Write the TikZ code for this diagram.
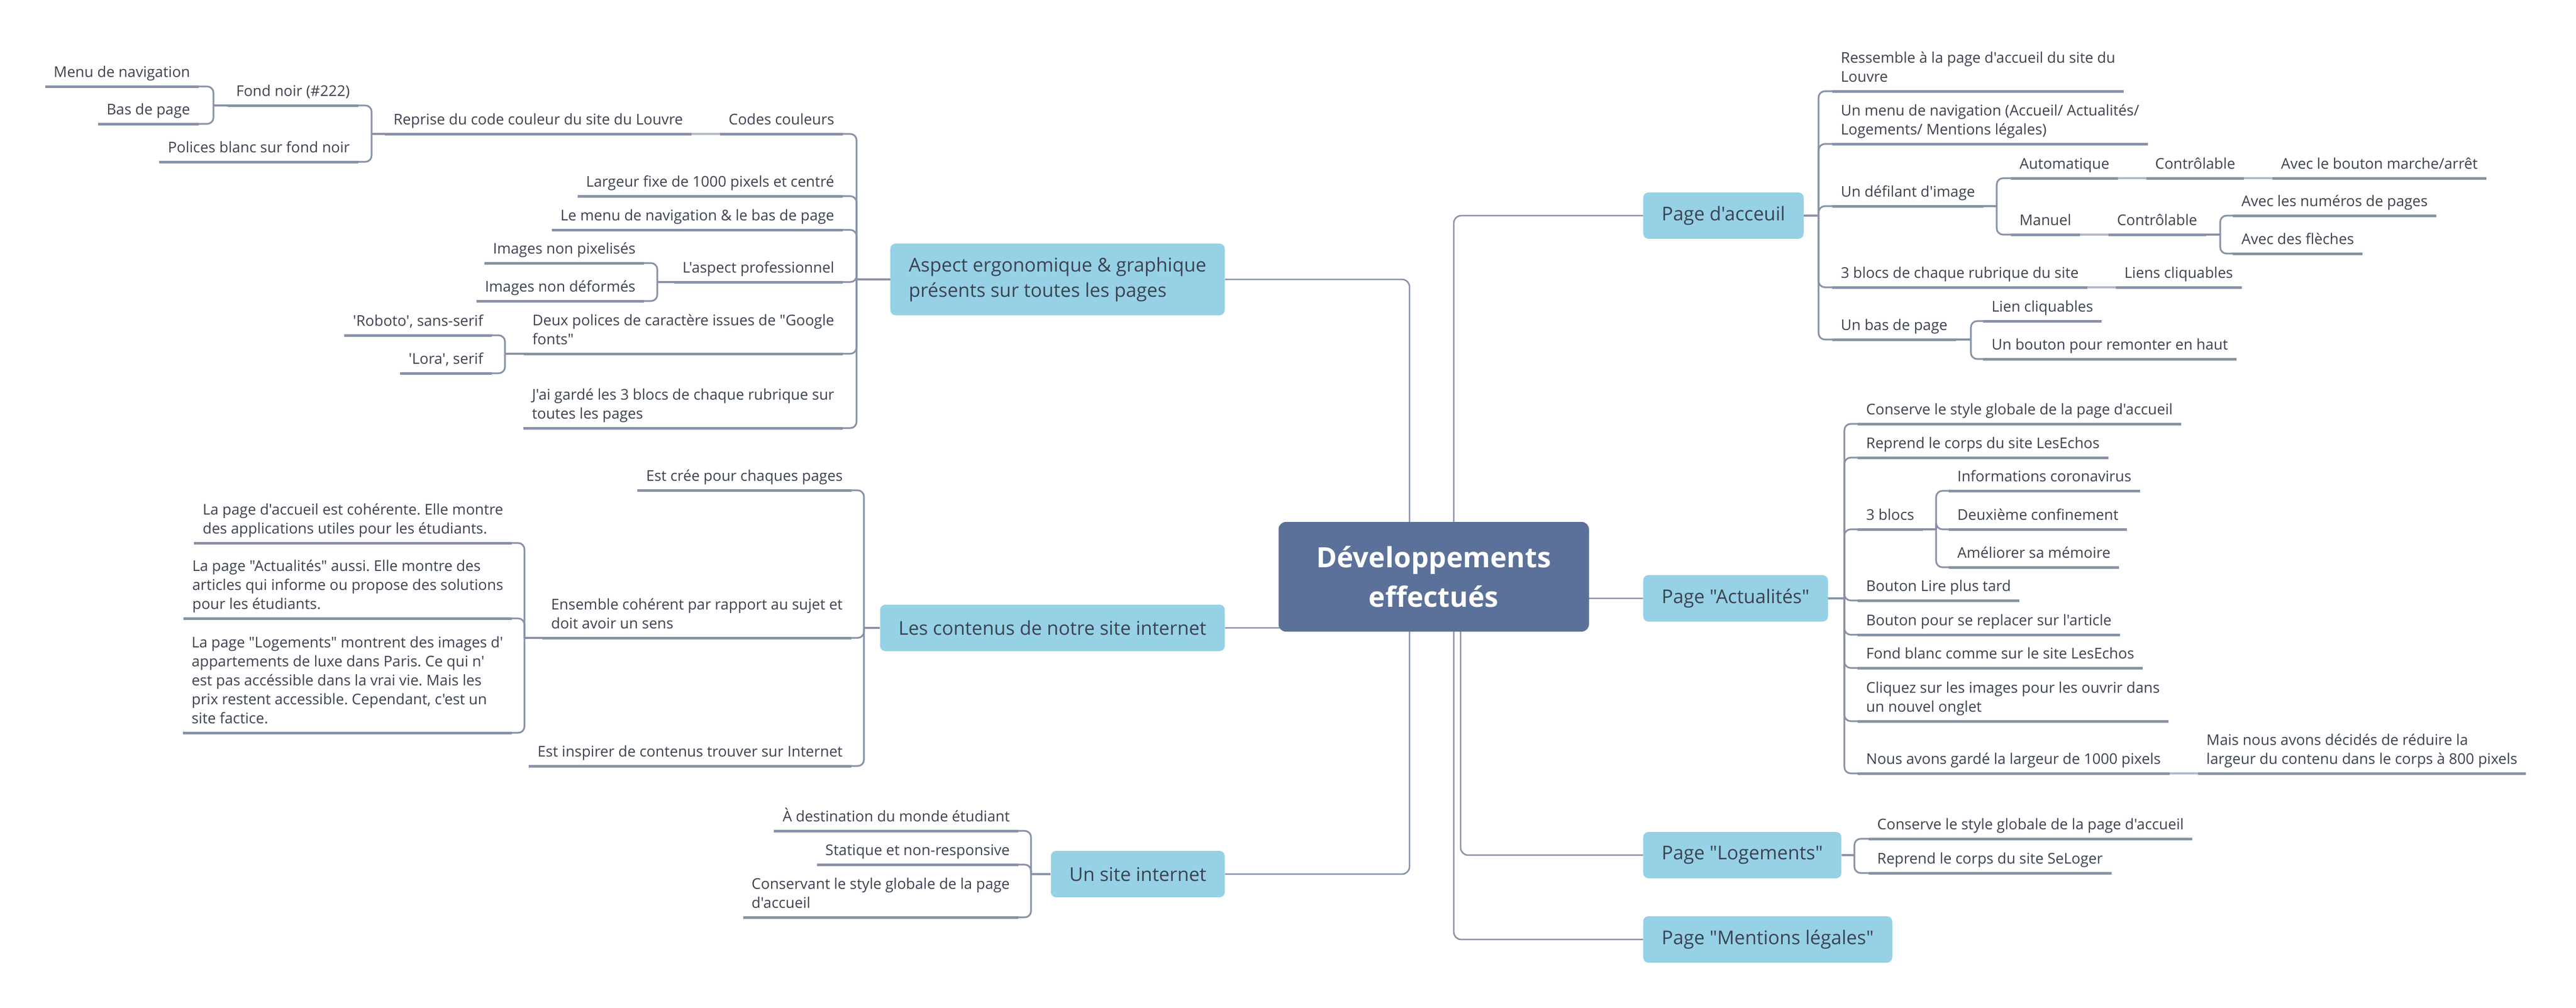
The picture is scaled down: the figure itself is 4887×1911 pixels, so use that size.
\documentclass[tikz,border=0pt]{standalone}
\usepackage{fontspec}
\setmainfont{Open Sans}[Ligatures=TeXOff]
\usepackage{xcolor}
\usetikzlibrary{positioning, backgrounds}
\definecolor{rootblue}{HTML}{5B7199}
\definecolor{boxblue}{HTML}{96D1E6}
\definecolor{linegray}{HTML}{8792A6}
\definecolor{linklight}{HTML}{B1BAC8}
\definecolor{txtgray}{HTML}{3C4350}
\def\chainsep{27pt}
\frenchspacing

\begin{document}
\begin{tikzpicture}[x=0.5pt, y=-0.5pt, node distance=\chainsep]
    \tikzstyle{root}=[fill=rootblue, rounded corners=7pt, text=white, align=center, font=\fontsize{26.5}{37.5}\selectfont\bfseries, minimum width=294.5pt, minimum height=104pt]
    \tikzstyle{branch}=[fill=boxblue, rounded corners=5pt, text=txtgray, align=left, font=\fontsize{18}{24}\selectfont, inner xsep=17.5pt, inner ysep=13pt, minimum height=44pt]
    \tikzstyle{leaf}=[text=txtgray, align=left, font=\fontsize{14}{18}\selectfont, inner xsep=8pt, inner ysep=3pt, execute at end node=\strut]
    \tikzstyle{lleaf}=[leaf, anchor=south east]
    \tikzstyle{rleaf}=[leaf, anchor=south west]
    \tikzstyle{trunk}=[draw=linegray, line width=1.4pt, rounded corners=7pt]
    \tikzstyle{stem}=[draw=linegray, line width=1.6pt, rounded corners=6pt]
    \tikzstyle{uline}=[draw=linegray, line width=2.5pt]
    \tikzstyle{link}=[draw=linklight, line width=1.6pt]

    \useasboundingbox (0,0) rectangle (4887,1911);

    \node[root] (dev) at (2720,1094) {Développements\\effectués};

    \node[branch, anchor=east] (asp) at (2324,530) {Aspect ergonomique \& graphique\\présents sur toutes les pages};
    \node[branch, anchor=east] (cont) at (2324,1191) {Les contenus de notre site internet};
    \node[branch, anchor=east] (site) at (2324,1658) {Un site internet};
    \node[branch, anchor=west] (acc) at (3117,409) {Page d'acceuil};
    \node[branch, anchor=west] (act) at (3117,1135) {Page "Actualités"};
    \node[branch, anchor=west] (log) at (3117,1622) {Page "Logements"};
    \node[branch, anchor=west] (men) at (3117,1782) {Page "Mentions légales"};

    \coordinate (dev-l) at (2674,1094);
    \coordinate (dev-r) at (2758,1094);
    \coordinate (dev-q) at (2771,1094);
    \begin{pgfonlayer}{background}
        \foreach \b in {asp,cont,site}
            \draw[trunk] (dev-l) |- (\b.east);
        \foreach \b in {acc,act,men}
            \draw[trunk] (dev-r) |- (\b.west);
        \draw[trunk] (dev-q) |- (log.west);
    \end{pgfonlayer}

%   Aspect ergonomique
    \node[lleaf] (cc) at (1599,254) {Codes couleurs};
    \node[lleaf, left=of cc.south west, anchor=south east] (rep) {Reprise du code couleur du site du Louvre};
    \node[lleaf] (fn) at (680,200) {Fond noir (\#222)};
    \node[lleaf] (mn) at (377,164) {Menu de navigation};
    \node[lleaf] (bp) at (377,235) {Bas de page};
    \node[lleaf] (pol) at (680,307) {Polices blanc sur fond noir};
    \node[lleaf] (lar) at (1599,372) {Largeur fixe de 1000 pixels et centré};
    \node[lleaf] (mnb) at (1599,436) {Le menu de navigation \& le bas de page};
    \node[lleaf] (pro) at (1599,535) {L'aspect professionnel};
    \node[lleaf] (pix) at (1222,499) {Images non pixelisés};
    \node[lleaf] (ndf) at (1222,571) {Images non déformés};
    \node[lleaf] (gf) at (1599,671) {Deux polices de caractère issues de "Google\\fonts"};
    \node[lleaf] (rob) at (933,636) {'Roboto', sans-serif};
    \node[lleaf] (lora) at (933,708) {'Lora', serif};
    \node[lleaf] (blk) at (1599,812) {J'ai gardé les 3 blocs de chaque rubrique sur\\toutes les pages};

    \coordinate (asp-b) at (1625,530);
    \coordinate (rep-b) at (705,254);
    \coordinate (fn-b) at (405,200);
    \coordinate (pro-b) at (1247,535);
    \coordinate (gf-b) at (958,671);
    \draw[stem] (asp.west) -- (asp-b);
    \foreach \c in {cc,lar,mnb,pro,gf,blk}
        \draw[stem] (asp-b) |- (\c.south east);
    \draw[link] (cc.south west) -- (rep.south east);
    \draw[stem] (rep.south west) -- (rep-b);
    \foreach \c in {fn,pol}
        \draw[stem] (rep-b) |- (\c.south east);
    \draw[stem] (fn.south west) -- (fn-b);
    \foreach \c in {mn,bp}
        \draw[stem] (fn-b) |- (\c.south east);
    \draw[stem] (pro.south west) -- (pro-b);
    \foreach \c in {pix,ndf}
        \draw[stem] (pro-b) |- (\c.south east);
    \draw[stem] (gf.south west) -- (gf-b);
    \foreach \c in {rob,lora}
        \draw[stem] (gf-b) |- (\c.south east);

%   Les contenus
    \node[lleaf] (cr) at (1615,930) {Est crée pour chaques pages};
    \node[lleaf] (ens) at (1615,1210) {Ensemble cohérent par rapport au sujet et\\doit avoir un sens};
    \node[lleaf] (pa) at (971,1030) {La page d'accueil est cohérente. Elle montre\\des applications utiles pour les étudiants.};
    \node[lleaf] (pac) at (971,1173) {La page "Actualités" aussi. Elle montre des\\articles qui informe ou propose des solutions\\pour les étudiants.};
    \node[lleaf] (plo) at (971,1390) {La page "Logements" montrent des images d'\\appartements de luxe dans Paris. Ce qui n'\\est pas accéssible dans la vrai vie. Mais les\\prix restent accessible. Cependant, c'est un\\site factice.};
    \node[lleaf] (ins) at (1615,1453) {Est inspirer de contenus trouver sur Internet};

    \coordinate (cont-b) at (1639,1191);
    \coordinate (ens-b) at (995,1210);
    \draw[stem] (cont.west) -- (cont-b);
    \foreach \c in {cr,ens,ins}
        \draw[stem] (cont-b) |- (\c.south east);
    \draw[stem] (ens.south west) -- (ens-b);
    \foreach \c in {pa,pac,plo}
        \draw[stem] (ens-b) |- (\c.south east);

%   Un site internet
    \node[lleaf] (dst) at (1932,1576) {À destination du monde étudiant};
    \node[lleaf] (sta) at (1932,1640) {Statique et non-responsive};
    \node[lleaf] (csv) at (1932,1740) {Conservant le style globale de la page\\d'accueil};

    \coordinate (site-b) at (1956,1658);
    \draw[stem] (site.west) -- (site-b);
    \foreach \c in {dst,sta,csv}
        \draw[stem] (site-b) |- (\c.south east);

    \foreach \c in {cc,rep,fn,mn,bp,pol,lar,mnb,pro,pix,ndf,gf,rob,lora,blk,cr,ens,pa,pac,plo,ins,dst,sta,csv}
        \draw[uline] (\c.south east) -- (\c.south west);

%   Page d'acceuil
    \node[rleaf] (res) at (3476,173) {Ressemble à la page d'accueil du site du\\Louvre};
    \node[rleaf] (nav) at (3476,273) {Un menu de navigation (Accueil/ Actualités/\\Logements/ Mentions légales)};
    \node[rleaf] (dfl) at (3476,391) {Un défilant d'image};
    \node[rleaf] (aut) at (3815,338) {Automatique};
    \node[rleaf, right=of aut.south east, anchor=south west] (ctr1) {Contrôlable};
    \node[rleaf, right=of ctr1.south east, anchor=south west] (mar) {Avec le bouton marche/arrêt};
    \node[rleaf] (man) at (3815,445) {Manuel};
    \node[rleaf, right=of man.south east, anchor=south west] (ctr2) {Contrôlable};
    \node[rleaf] (num) at (4236,409) {Avec les numéros de pages};
    \node[rleaf] (fle) at (4236,481) {Avec des flèches};
    \node[rleaf] (trb) at (3476,545) {3 blocs de chaque rubrique du site};
    \node[rleaf, right=of trb.south east, anchor=south west] (lcl) {Liens cliquables};
    \node[rleaf] (bas) at (3476,644) {Un bas de page};
    \node[rleaf] (lc) at (3762,609) {Lien cliquables};
    \node[rleaf] (rem) at (3762,681) {Un bouton pour remonter en haut};

    \coordinate (acc-b) at (3450,409);
    \coordinate (dfl-b) at (3788,391);
    \coordinate (ctr2-b) at (4212,445);
    \coordinate (bas-b) at (3739,644);
    \draw[stem] (acc.east) -- (acc-b);
    \foreach \c in {res,nav,dfl,trb,bas}
        \draw[stem] (acc-b) |- (\c.south west);
    \draw[stem] (dfl.south east) -- (dfl-b);
    \foreach \c in {aut,man}
        \draw[stem] (dfl-b) |- (\c.south west);
    \draw[link] (aut.south east) -- (ctr1.south west);
    \draw[link] (ctr1.south east) -- (mar.south west);
    \draw[link] (man.south east) -- (ctr2.south west);
    \draw[stem] (ctr2.south east) -- (ctr2-b);
    \foreach \c in {num,fle}
        \draw[stem] (ctr2-b) |- (\c.south west);
    \draw[link] (trb.south east) -- (lcl.south west);
    \draw[stem] (bas.south east) -- (bas-b);
    \foreach \c in {lc,rem}
        \draw[stem] (bas-b) |- (\c.south west);

%   Page "Actualités"
    \node[rleaf] (cs1) at (3524,804) {Conserve le style globale de la page d'accueil};
    \node[rleaf] (rc1) at (3524,868) {Reprend le corps du site LesEchos};
    \node[rleaf] (tbl) at (3524,1004) {3 blocs};
    \node[rleaf] (inf) at (3697,931) {Informations coronavirus};
    \node[rleaf] (dcf) at (3697,1004) {Deuxième confinement};
    \node[rleaf] (mem) at (3697,1076) {Améliorer sa mémoire};
    \node[rleaf] (lpt) at (3524,1139) {Bouton Lire plus tard};
    \node[rleaf] (rpl) at (3524,1204) {Bouton pour se replacer sur l'article};
    \node[rleaf] (fbl) at (3524,1267) {Fond blanc comme sur le site LesEchos};
    \node[rleaf] (clq) at (3524,1368) {Cliquez sur les images pour les ouvrir dans\\un nouvel onglet};
    \node[rleaf] (lrg) at (3524,1467) {Nous avons gardé la largeur de 1000 pixels};
    \node[rleaf, right=of lrg.south east, anchor=south west] (red) {Mais nous avons décidés de réduire la\\largeur du contenu dans le corps à 800 pixels};

    \coordinate (act-b) at (3499,1135);
    \coordinate (tbl-b) at (3673,1004);
    \draw[stem] (act.east) -- (act-b);
    \foreach \c in {cs1,rc1,tbl,lpt,rpl,fbl,clq,lrg}
        \draw[stem] (act-b) |- (\c.south west);
    \draw[stem] (tbl.south east) -- (tbl-b);
    \foreach \c in {inf,dcf,mem}
        \draw[stem] (tbl-b) |- (\c.south west);
    \draw[link] (lrg.south east) -- (red.south west);

%   Page "Logements"
    \node[rleaf] (cs2) at (3545,1591) {Conserve le style globale de la page d'accueil};
    \node[rleaf] (rc2) at (3545,1656) {Reprend le corps du site SeLoger};

    \coordinate (log-b) at (3518,1622);
    \draw[stem] (log.east) -- (log-b);
    \foreach \c in {cs2,rc2}
        \draw[stem] (log-b) |- (\c.south west);

    \foreach \c in {res,nav,dfl,aut,ctr1,mar,man,ctr2,num,fle,trb,lcl,bas,lc,rem,cs1,rc1,tbl,inf,dcf,mem,lpt,rpl,fbl,clq,lrg,red,cs2,rc2}
        \draw[uline] (\c.south west) -- (\c.south east);
\end{tikzpicture}
\end{document}
